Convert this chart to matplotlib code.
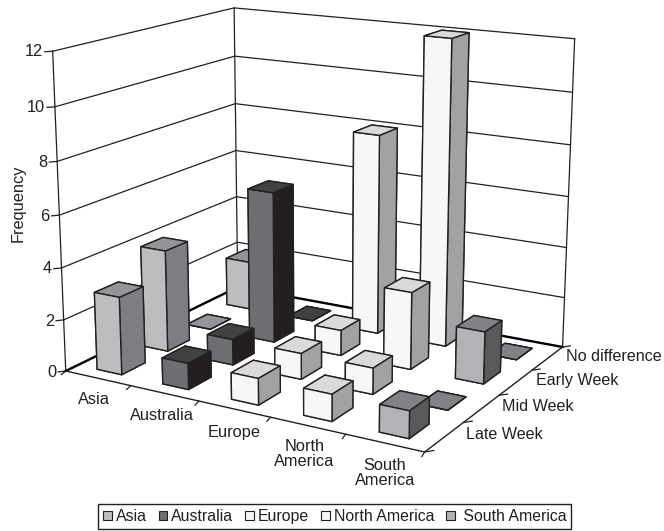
import matplotlib
matplotlib.use('Agg')
import matplotlib.pyplot as plt
from matplotlib.patches import Patch
from matplotlib.text import Text

plt.rcParams['font.family'] = ['Liberation Sans', 'DejaVu Sans']

continents = ['Asia', 'Australia', 'Europe', 'North America', 'South America']
continent_labels = ['Asia', 'Australia', 'Europe', 'North\nAmerica', 'South\nAmerica']
legend_labels = ['Asia', 'Australia', 'Europe', 'North America', ' South America']
weeks = ['Late Week', 'Mid Week', 'Early Week', 'No difference']
asia = [3, 4, 0, 2]
australia = [1, 1, 6, 0]
europe = [1, 1, 1, 8]
north_america = [1, 1, 3, 12]
south_america = [1, 0, 2, 0]
freq_ticks = [0, 2, 4, 6, 8, 10, 12]

series = [asia, australia, europe, north_america, south_america]
# front, side, top shade of each continent's columns
shades = [('#bcbdbf', '#7c7e81', '#939598'),
          ('#6d6e71', '#231f20', '#414042'),
          ('#f7f7f7', '#a0a2a4', '#d9dadb'),
          ('#f7f7f7', '#a0a2a4', '#d9dadb'),
          ('#b1b3b6', '#58595b', '#808285')]
ink = '#231f20'

fig = plt.figure(figsize=(6.64, 5.31), dpi=100)
ax = fig.add_axes([0.02393, 0.04190, 0.88886, 1.11149], projection='3d', computed_zorder=False)
ax.set_xlim(0, 5)
ax.set_ylim(0, 4)
ax.set_zlim(0, 12)
ax.view_init(15.169, -59.706)
ax.set_box_aspect((1, 0.78728, 0.80511))
ax.set_proj_type('persp', focal_length=0.5396)
ax.set_xticks([])
ax.set_yticks([])
ax.set_zticks([])
for axis in (ax.xaxis, ax.yaxis, ax.zaxis):
    axis.set_visible(False)
ax.set_axis_off()

nx, ny, top = len(continents), len(weeks), freq_ticks[-1]

# walls and gridlines
for z in freq_ticks:
    ax.plot([0, 0, nx], [0, ny, ny], [z, z, z], color=ink, lw=0.9, zorder=1)
    ax.plot([-0.06, 0], [-0.075, 0], [z, z], color=ink, lw=0.9, zorder=1)
    ax.text(-0.075, -0.095, z, str(z), ha='right', va='center', fontsize=11.8, color=ink)
for x, y in [(0, 0), (0, ny), (nx, ny)]:
    ax.plot([x, x], [y, y], [0, top], color=ink, lw=0.9, zorder=1)

# floor edges, heavier at the back
ax.plot([0, 0, nx], [0, ny, ny], [0, 0, 0], color='black', lw=1.7, zorder=2)
ax.plot([0, nx, nx], [0, 0, ny], [0, 0, 0], color=ink, lw=1.0, zorder=2)

for i in range(nx + 1):
    ax.plot([i, i + 0.03], [0, -0.13], [0, 0], color=ink, lw=0.9, zorder=2)
for j in range(ny + 1):
    ax.plot([nx, nx + 0.07], [j, j + 0.09], [0, 0], color=ink, lw=0.9, zorder=2)

for i, label in enumerate(continent_labels):
    ax.text(i + 0.885, -0.73 if '\n' in label else -0.6, 0, label,
            ha='center', va='center', fontsize=11.8, color=ink, linespacing=1.0)
for j, label in enumerate(weeks):
    ax.text(nx + 0.18, j + 0.69, 0, label, ha='left', va='center', fontsize=11.6, color=ink)

fig.text(18 / 664, 1 - 203 / 531, 'Frequency', rotation=90, ha='center', va='center',
         fontsize=11.8, color=ink)

# columns, far ones first
for i in range(nx):
    for j in range(ny):
        front, side, cap = shades[i]
        # face order: bottom, top, front, back, left, right
        ax.bar3d(i + 0.3, j + 0.25, 0, 0.38, 0.5, series[i][j],
                 color=[cap, cap, front, front, side, side], shade=False,
                 edgecolor=ink, linewidth=1.0, zorder=10 + i - j)

handles = [Patch(facecolor=shades[i][0], edgecolor=ink, linewidth=0.8) for i in range(nx)]
leg = fig.legend(handles, legend_labels, loc='lower left', bbox_to_anchor=(98 / 664, 2 / 531),
                 ncol=5, frameon=True, fancybox=False, framealpha=1, edgecolor=ink,
                 fontsize=11.4, handlelength=0.55, handleheight=0.55, handletextpad=0.25,
                 columnspacing=0.75, borderpad=0.32, borderaxespad=0, labelcolor=ink)
leg.get_frame().set_linewidth(1.0)

# titles and the legend title stay empty, hide them
for t in fig.findobj(Text):
    if not t.get_text():
        t.set_visible(False)

fig.savefig('out.png', dpi=100)
